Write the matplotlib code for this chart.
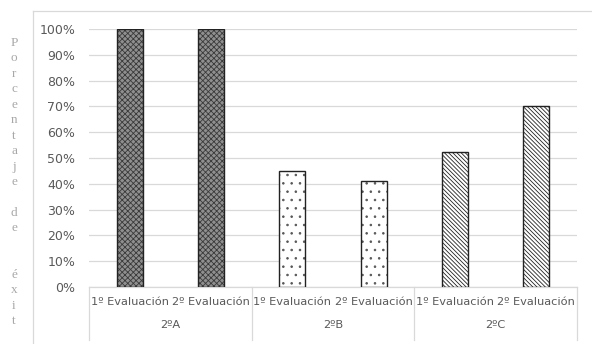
import matplotlib.pyplot as plt
import matplotlib.transforms as mtransforms
from matplotlib.lines import Line2D
from matplotlib.ticker import PercentFormatter

plt.rcParams['hatch.linewidth'] = 0.6

groups = ['2ºA', '2ºB', '2ºC']
evaluations = ['1º Evaluación', '2º Evaluación']
exito = [1.00, 1.00, 0.45, 0.41, 0.525, 0.70]
y_letters = list('Porcentaje') + [''] + list('de') + ['', ''] + list('éxit')

# fill, hatch and hatch colour for each group
group_face = ['#8f8f8f', 'white', 'white']
group_hatch = ['xxxxxx', '..', '\\\\\\\\\\\\\\\\']
group_hcolor = ['#3a3a3a', '#555555', '#222222']

fig = plt.figure(figsize=(5.92, 3.44), dpi=100)
ax = fig.add_axes([89 / 592, 57 / 344, 488 / 592, 258 / 344])

xs = list(range(len(exito)))
for i, (x, v) in enumerate(zip(xs, exito)):
    g = i // len(evaluations)
    ax.bar(x, v, width=0.32, color=group_face[g], hatch=group_hatch[g],
           edgecolor=group_hcolor[g], linewidth=0, zorder=3)
    ax.bar(x, v, width=0.32, fill=False, edgecolor='#222222',
           linewidth=1.0, zorder=4)

ax.set_xlim(-0.5, len(exito) - 0.5)
ax.set_ylim(0, 1)
ax.set_yticks([i / 10 for i in range(11)])
ax.yaxis.set_major_formatter(PercentFormatter(1.0, decimals=0))
ax.grid(axis='y', color='#d9d9d9', linewidth=0.9, zorder=0)
for s in ax.spines.values():
    s.set_visible(False)
ax.tick_params(axis='y', length=0, pad=10, labelsize=9, labelcolor='#595959')
ax.set_xticks(xs)
ax.set_xticklabels(evaluations * len(groups))
ax.tick_params(axis='x', length=0, pad=7, labelsize=8.2, labelcolor='#595959')

# category axis: baseline, group separators and group names
trans = mtransforms.blended_transform_factory(ax.transData, ax.transAxes)
ax.plot([-0.5, len(exito) - 0.5], [0, 0], color='#d9d9d9', lw=0.9,
        transform=trans, clip_on=False)
for k in range(len(groups) + 1):
    xb = k * len(evaluations) - 0.5
    ax.plot([xb, xb], [0, -0.205], color='#d9d9d9', lw=0.9,
            transform=trans, clip_on=False)
for k, g in enumerate(groups):
    ax.text(k * len(evaluations) + 0.5, -0.147, g, transform=trans,
            ha='center', va='center', fontsize=8.2, color='#595959')

# outer chart frame
fig.add_artist(Line2D([33 / 592, 33 / 592], [0, 1 - 11 / 344],
                      transform=fig.transFigure, color='#d9d9d9', lw=0.9))
fig.add_artist(Line2D([33 / 592, 1], [1 - 11 / 344, 1 - 11 / 344],
                      transform=fig.transFigure, color='#d9d9d9', lw=0.9))

# vertical axis title, one letter per line
for j, ch in enumerate(y_letters):
    fig.text(14 / 592, 1 - (43 + j * 15.45) / 344, ch, ha='center',
             va='center', fontsize=9.5, color='#a8a8a8',
             family='Liberation Serif')

fig.savefig('out.png', dpi=100)
